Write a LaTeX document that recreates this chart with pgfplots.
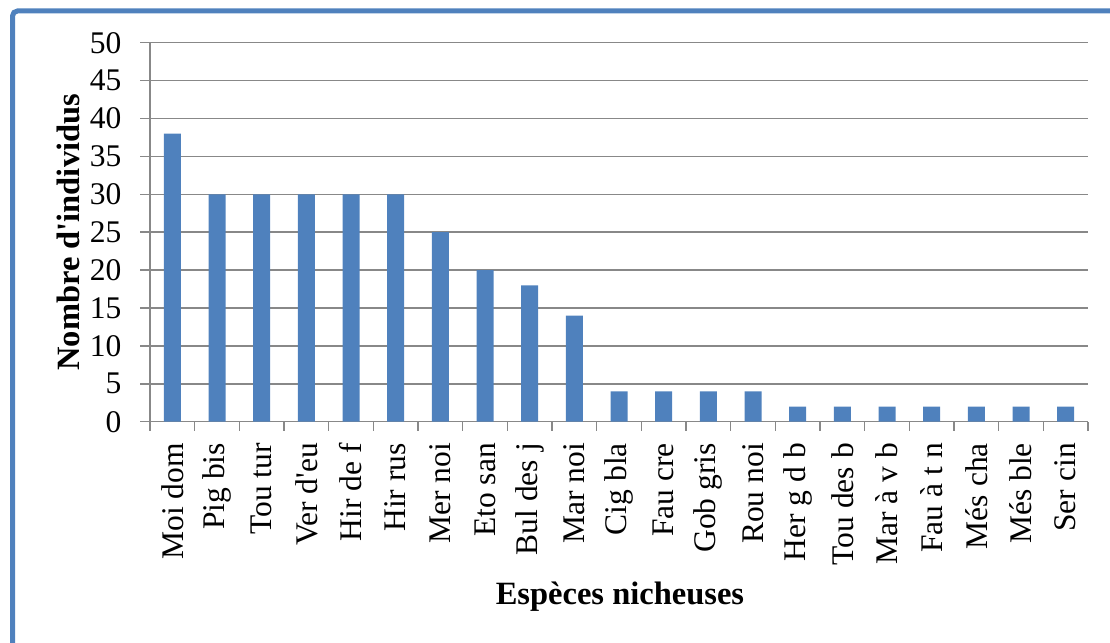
\documentclass[border=0pt]{standalone}
\usepackage{pgfplots}
\pgfplotsset{compat=1.18}
\usepackage{fontspec}
\setmainfont{Liberation Serif}
\definecolor{barblue}{HTML}{4F81BD}
\definecolor{gridgray}{HTML}{888888}
\newcommand{\ap}{\textquotesingle}
\begin{document}
\begin{tikzpicture}[x=1pt,y=1pt]
\useasboundingbox (0,0) rectangle (1110,642);
\begin{scope}
\clip (0,0) rectangle (1110,642);
\draw[barblue, line width=5pt, rounded corners=5pt] (12.5,-30) -- (12.5,631) -- (1140,631);
\end{scope}
\begin{axis}[
  at={(150pt,220.3pt)}, anchor=south west,
  scale only axis, width=938pt, height=379pt,
  ymin=0, ymax=50, ytick={0,5,...,50},
  xmin=-0.5, xmax=20.5,
  xtick=data,
  xticklabels={Moi dom, Pig bis, Tou tur, Ver d\ap eu, Hir de f, Hir rus, Mer noi, Eto san, Bul des j, Mar noi, Cig bla, Fau cre, Gob gris, Rou noi, Her g d b, Tou des b, Mar à v b, Fau à t n, Més cha, Més ble, Ser cin},
  major x tick style={draw=none},
  minor xtick={-0.5,0.5,...,20.5},
  minor tick length=9pt,
  minor x tick style={draw=gridgray, line width=1.5pt},
  axis x line*=bottom, axis y line*=left,
  axis line style={draw=gridgray, line width=1.5pt, -},
  tick align=outside,
  major tick length=10pt,
  ytick style={draw=gridgray, line width=1.5pt},
  ymajorgrids, grid style={draw=gridgray, line width=1.5pt},
  /pgf/number format/assume math mode=true,
  ticklabel style={font=\fontsize{31.5}{36}\selectfont, black},
  yticklabel style={xshift=-15pt},
  xticklabel style={rotate=90, anchor=east, xshift=-8pt},
  ylabel={\textbf{Nombre d\ap individus}},
  xlabel={\textbf{Espèces nicheuses}},
  label style={font=\fontsize{32.5}{38}\selectfont},
  ylabel style={at={(rel axis cs:-0.0874,0.5)}, anchor=center},
  xlabel style={at={(rel axis cs:0.501,-0.4625)}, anchor=center},
  ybar, bar width=17pt,
  clip=false,
]
\addplot[fill=barblue, draw=none] coordinates {
  (0,38) (1,30) (2,30) (3,30) (4,30) (5,30) (6,25) (7,20) (8,18) (9,14)
  (10,4) (11,4) (12,4) (13,4) (14,2) (15,2) (16,2) (17,2) (18,2) (19,2) (20,2)
};
\end{axis}
\end{tikzpicture}
\end{document}
